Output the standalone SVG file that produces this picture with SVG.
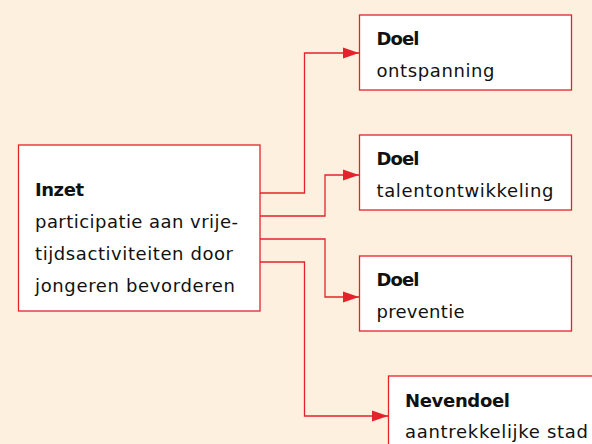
<svg xmlns="http://www.w3.org/2000/svg" width="592" height="444" viewBox="0 0 592 444">
<defs>
<style>
.box{fill:#ffffff;stroke:#e3222c;stroke-width:1.3}
.c{fill:none;stroke:#e3222c;stroke-width:1.3}
text{font-family:"DejaVu Sans",sans-serif;font-size:18px;fill:#111}
.b{font-weight:bold}
</style>
<marker id="ah" markerWidth="16" markerHeight="12" refX="16" refY="6" orient="auto" markerUnits="userSpaceOnUse">
<path d="M0,0.5 L16,6 L0,11.5 Z" fill="#e3222c"/>
</marker>
</defs>
<rect width="592" height="444" fill="#fdf0de"/>
<g id="connectors">
<polyline class="c" points="260,193 304.5,193 304.5,53 359,53" marker-end="url(#ah)"/>
<polyline class="c" points="260,216 325,216 325,175 359,175" marker-end="url(#ah)"/>
<polyline class="c" points="260,239 325,239 325,297 359,297" marker-end="url(#ah)"/>
<polyline class="c" points="260,262 304.5,262 304.5,416 388,416" marker-end="url(#ah)"/>
</g>
<g id="inzet">
<rect class="box" x="18.5" y="145" width="241.5" height="166"/>
<text x="35" y="196" class="b" textLength="49">Inzet</text>
<text x="35" y="228" textLength="203">participatie aan vrije-</text>
<text x="35" y="259.5" textLength="198">tijdsactiviteiten door</text>
<text x="35" y="291.5" textLength="200">jongeren bevorderen</text>
</g>
<g id="doel1">
<rect class="box" x="359.5" y="15" width="212" height="75"/>
<text x="376.5" y="45" class="b" textLength="43">Doel</text>
<text x="376.5" y="77" textLength="118">ontspanning</text>
</g>
<g id="doel2">
<rect class="box" x="359.5" y="135" width="212" height="75"/>
<text x="376.5" y="165" class="b" textLength="43">Doel</text>
<text x="376.5" y="197" textLength="177">talentontwikkeling</text>
</g>
<g id="doel3">
<rect class="box" x="359.5" y="256" width="212" height="75"/>
<text x="376.5" y="286" class="b" textLength="43">Doel</text>
<text x="376.5" y="318" textLength="88">preventie</text>
</g>
<g id="nevendoel">
<rect class="box" x="388.5" y="376" width="215" height="75"/>
<text x="405" y="406.5" class="b" textLength="105">Nevendoel</text>
<text x="405" y="438" textLength="183">aantrekkelijke stad</text>
</g>
</svg>
